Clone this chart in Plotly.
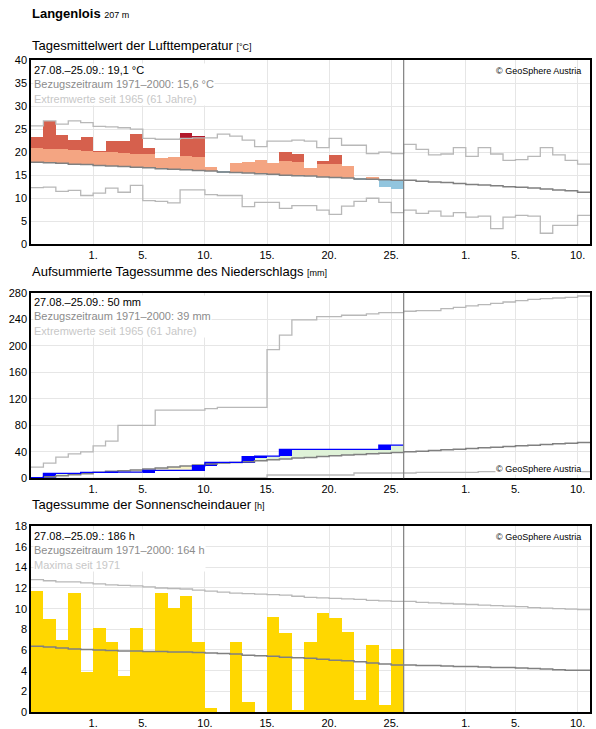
import plotly.graph_objects as go

N_DATA = 30
N_ALL = 45
tick_pos = [5, 9, 14, 19, 24, 29, 35, 39, 44]
tick_txt = ["1.", "5.", "10.", "15.", "20.", "25.", "1.", "5.", "10."]

temp = [23.2, 26.8, 23.7, 22.6, 23.2, 20.2, 22.4, 22.4, 23.9, 20.9, 18.7, 18.9, 24.2, 23.5, 16.8,
        15.5, 17.6, 17.9, 18.3, 17.6, 20.0, 19.7, 16.6, 18.0, 19.4, 17.0, 14.0, 14.7, 12.4, 12.1]
temp_norm = [17.8, 17.7, 17.6, 17.4, 17.3, 17.1, 17.0, 16.9, 16.7, 16.6, 16.4, 16.3, 16.2, 16.0, 15.9,
             15.7, 15.6, 15.5, 15.3, 15.2, 15.0, 14.9, 14.8, 14.6, 14.5, 14.4, 14.2, 14.1, 14.0, 13.9,
             13.9, 13.7, 13.5, 13.4, 13.2, 13.0, 12.9, 12.7, 12.5, 12.4, 12.2, 12.0, 11.8, 11.6, 11.3]
temp_max = [25.7, 26.8, 26.1, 26.8, 26.4, 25.6, 25.5, 25.3, 25.0, 23.0, 22.8, 22.8, 23.0, 23.1, 23.1,
            23.9, 23.5, 22.6, 21.2, 22.4, 22.4, 22.6, 22.4, 21.0, 23.0, 21.5, 21.5, 19.7, 20.0, 19.7,
            21.7, 20.6, 19.4, 19.6, 21.0, 19.1, 21.0, 19.6, 18.2, 18.4, 19.1, 21.0, 19.4, 18.2, 17.4]
temp_min = [12.3, 12.4, 11.5, 11.7, 10.6, 11.1, 12.2, 11.3, 12.8, 9.5, 9.3, 9.0, 11.8, 11.8, 10.8,
            10.6, 10.6, 8.2, 9.1, 9.1, 7.8, 8.4, 8.4, 7.4, 6.5, 8.3, 9.3, 10.0, 9.1, 6.9,
            7.4, 6.7, 7.2, 6.1, 6.9, 5.9, 6.1, 3.4, 5.9, 6.3, 6.1, 2.4, 4.1, 4.1, 6.3]

prec_cum = [1, 7.5, 7.5, 7.5, 9, 9, 9.5, 9.5, 9.5, 12, 12, 12, 12, 19, 24,
            24, 24, 32.6, 33.5, 33.5, 43.7, 43.7, 43.7, 43.7, 43.7, 43.7, 43.7, 43.7, 50, 50]
prec_norm = [1, 2.5, 4, 5.5, 7, 9, 10.5, 11.5, 12.5, 14, 15.5, 17, 18.5, 20, 21.5,
             23, 24, 25, 26.5, 28, 29, 30.5, 31.5, 33, 34, 35, 36, 37, 38, 39,
             40, 41, 42, 43, 44, 45, 46, 47, 48, 49, 50, 51, 52, 53, 54]
prec_max = [17, 23, 32, 37, 40, 49, 56, 80, 80, 80, 103, 103, 103, 103, 105,
            107, 107, 107, 107, 194, 216, 239, 239, 244, 244, 246, 246, 248, 250, 250,
            252, 253, 253, 256, 258, 260, 262, 264, 266, 268, 270, 271, 272, 273, 275]
prec_min = [0, 0, 0, 0, 0, 0, 0, 0, 0, 0, 0, 0, 1, 1, 1,
            1, 1, 1, 1, 5, 5, 5, 5, 5, 5, 5, 8, 8, 8, 8,
            8, 9, 9, 9, 9, 9, 10, 10, 10, 10, 10, 10, 10, 10, 10]

sun = [11.7, 9.0, 6.95, 11.5, 3.9, 8.1, 6.75, 3.45, 8.1, 5.9, 11.5, 10.05, 11.2, 6.75, 0.35,
       0, 6.75, 0.95, 0, 9.2, 7.6, 0.15, 6.75, 9.55, 9.1, 7.7, 1.15, 6.45, 0.65, 6.1]
sun_norm = [6.35, 6.3, 6.2, 6.1, 6.05, 6.0, 5.95, 5.9, 5.9, 5.85, 5.85, 5.8, 5.8, 5.75, 5.7,
            5.65, 5.6, 5.5, 5.45, 5.4, 5.3, 5.25, 5.2, 5.1, 5.0, 4.95, 4.85, 4.75, 4.65, 4.55,
            4.55, 4.5, 4.5, 4.45, 4.4, 4.4, 4.35, 4.3, 4.3, 4.25, 4.2, 4.15, 4.1, 4.05, 4.05]
sun_max = [12.8, 12.7, 12.6, 12.6, 12.5, 12.4, 12.3, 12.25, 12.2, 12.1, 12.0, 11.95, 11.9, 11.8, 11.7,
           11.6, 11.5, 11.45, 11.4, 11.35, 11.3, 11.2, 11.1, 11.05, 11.0, 10.95, 10.9, 10.8, 10.75, 10.7,
           10.7, 10.6, 10.55, 10.5, 10.45, 10.4, 10.35, 10.3, 10.25, 10.2, 10.1, 10.05, 10.0, 9.95, 9.9]

SALMON, RED, CRIMSON, BLUEC = "#f4a582", "#d6604d", "#b2182b", "#92c5de"
GRAY, LGRAY = "#808080", "#b8b8b8"
FONT = "Liberation Sans, Arial, sans-serif"

fig = go.Figure()
xc = [i + 0.5 for i in range(N_DATA)]

def bars(x, base, h, color, yaxis):
    fig.add_trace(go.Bar(x=x, y=h, base=base, width=1, marker=dict(color=color, line=dict(width=0)),
                         xaxis="x" + yaxis[1:], yaxis=yaxis, showlegend=False, hoverinfo="skip"))

def step(vals, color, yaxis, width=1.3):
    xs = list(range(len(vals))) + [len(vals)]
    ys = list(vals) + [vals[-1]]
    fig.add_trace(go.Scatter(x=xs, y=ys, mode="lines", line=dict(color=color, width=width, shape="hv"),
                             xaxis="x" + yaxis[1:], yaxis=yaxis, showlegend=False, hoverinfo="skip"))

sb, sh, rb, rh, cb, ch, bb, bh = ([] for _ in range(8))
for i, v in enumerate(temp):
    n, mx = temp_norm[i], temp_max[i]
    if v >= n:
        top1 = min(v, n + 3)
        sb.append(n); sh.append(top1 - n)
        top2 = min(v, mx)
        rb.append(n + 3); rh.append(max(0, top2 - (n + 3)))
        cb.append(mx); ch.append(max(0, v - mx))
        bb.append(n); bh.append(0)
    else:
        sb.append(n); sh.append(0); rb.append(n); rh.append(0); cb.append(n); ch.append(0)
        bb.append(v); bh.append(n - v)
bars(xc, sb, sh, SALMON, "y")
bars(xc, rb, rh, RED, "y")
bars(xc, cb, ch, CRIMSON, "y")
bars(xc, bb, bh, BLUEC, "y")
step(temp_max, LGRAY, "y")
step(temp_min, LGRAY, "y")
step(temp_norm, GRAY, "y", 1.5)

fb, fh, fc = [], [], []
for i, v in enumerate(prec_cum):
    n = prec_norm[i]
    fb.append(min(v, n)); fh.append(abs(v - n))
    fc.append("#dff2d8" if v >= n else "#f7f3c6")
bars(xc, fb, fh, fc, "y2")
prev = [0] + prec_cum[:-1]
bars(xc, prev, [c - p for c, p in zip(prec_cum, prev)], "#0000ff", "y2")
step(prec_max, LGRAY, "y2")
step(prec_min, LGRAY, "y2")
step(prec_norm, GRAY, "y2", 1.5)
step(prec_cum, "#0000ff", "y2", 1.3)

bars(xc, [0] * N_DATA, sun, "#ffd700", "y3")
step(sun_max, LGRAY, "y3")
step(sun_norm, GRAY, "y3", 1.5)

doms = {"y": [0.7173, 1], "y2": [0.3584, 0.6431], "y3": [0.0, 0.2853]}
ranges = {"y": (0, 40, 5), "y2": (0, 280, 40), "y3": (0, 18, 2)}
lay = dict(width=596, height=729, margin=dict(l=31, r=6, t=60, b=17, autoexpand=False),
           plot_bgcolor="white", paper_bgcolor="white", bargap=0, barmode="overlay",
           font=dict(family=FONT, size=11, color="black"))
for k, ax in enumerate(["", "2", "3"]):
    ylab = "y" + ax
    lay["xaxis" + ax] = dict(range=[0, N_ALL], tickvals=tick_pos, ticktext=tick_txt, showgrid=True,
                             gridcolor="#e6e6e6", showline=True, linecolor="black", linewidth=1.5,
                             mirror=True, ticks="", anchor=ylab, zeroline=False, automargin=False,
                             tickfont=dict(size=11, family=FONT))
    r0, r1, dt = ranges[ylab]
    lay["yaxis" + ax] = dict(domain=doms[ylab], range=[r0, r1], dtick=dt, showgrid=True, gridcolor="#e6e6e6",
                             showline=True, linecolor="black", linewidth=1.5, mirror=True, ticks="",
                             anchor="x" + ax, zeroline=False, automargin=False,
                             tickfont=dict(size=11, family=FONT))
fig.update_layout(**lay)

for ax in ["", "2", "3"]:
    fig.add_shape(type="line", xref="x" + ax, yref="y" + ax + " domain", x0=30, x1=30, y0=0, y1=1,
                  line=dict(color="#808080", width=1.2))

def ann(text, x, y, xref, yref, xa="left", ya="top", size=11, color="black", bg=None, align="left"):
    fig.add_annotation(text=text, x=x, y=y, xref=xref, yref=yref, xanchor=xa, yanchor=ya, showarrow=False,
                       font=dict(size=size, color=color, family=FONT), bgcolor=bg, borderpad=0, align=align)

def py(p):
    return 1 - (p - 60) / 652

ann("<b>Langenlois</b> <span style='font-size:9px'>207 m</span>", 0, py(14), "paper", "paper", ya="middle", size=13)
titles = [("Tagesmittelwert der Lufttemperatur", "[°C]", 45),
          ("Aufsummierte Tagessumme des Niederschlags", "[mm]", 271),
          ("Tagessumme der Sonnenscheindauer", "[h]", 505)]
for t, u, p in titles:
    ann(f"{t} <span style='font-size:9px'>{u}</span>", 0, py(p), "paper", "paper", ya="middle", size=13)

infos = [("y", "27.08.–25.09.: 19,1 °C", "Bezugszeitraum 1971–2000: 15,6 °C", "Extremwerte seit 1965 (61 Jahre)"),
         ("y2", "27.08.–25.09.: 50 mm", "Bezugszeitraum 1971–2000: 39 mm", "Extremwerte seit 1965 (61 Jahre)"),
         ("y3", "27.08.–25.09.: 186 h", "Bezugszeitraum 1971–2000: 164 h", "Maxima seit 1971")]
for ya_, a, b, c in infos:
    xr = "x" + ya_[1:]
    yr = ya_ + " domain"
    txt = (f"{a}<br><span style='color:#8c8c8c'>{b}</span><br><span style='color:#c8c8c8'>{c}</span>")
    ann(txt, 0.2, 0.985, xr, yr, size=11, bg="white")
ann("© GeoSphere Austria", 0.985, 0.975, "x domain", "y domain", xa="right", size=9)
ann("© GeoSphere Austria", 0.985, 0.02, "x2 domain", "y2 domain", xa="right", ya="bottom", size=9, bg="white")
ann("© GeoSphere Austria", 0.985, 0.975, "x3 domain", "y3 domain", xa="right", size=9)

fig.write_html("out.html", config={"displayModeBar": False},
               post_script="document.body.style.margin='0';document.body.style.overflow='hidden';")
